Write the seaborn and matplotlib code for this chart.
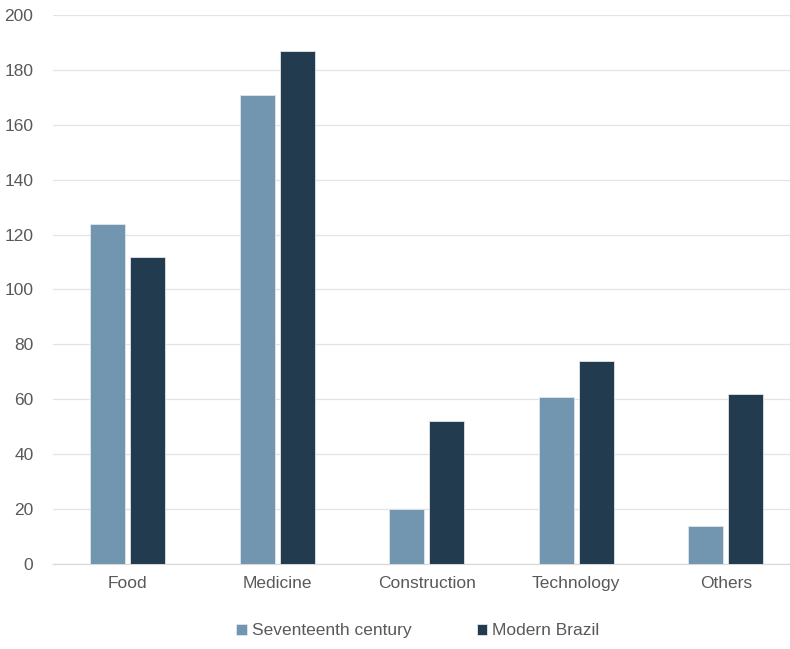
import matplotlib
matplotlib.use("Agg")
import matplotlib.pyplot as plt
import seaborn as sns
import pandas as pd

categories = ["Food", "Medicine", "Construction", "Technology", "Others"]
seventeenth = [124, 171, 20, 61, 14]
modern = [112, 187, 52, 74, 62]
series_names = ["Seventeenth century", "Modern Brazil"]
yticks = [0, 20, 40, 60, 80, 100, 120, 140, 160, 180, 200]

df = pd.DataFrame({
    "category": categories * 2,
    "value": seventeenth + modern,
    "series": [series_names[0]] * len(categories) + [series_names[1]] * len(categories),
})

sns.set_theme(style="white")
plt.rcParams["font.family"] = ["Liberation Sans", "DejaVu Sans"]

fig = plt.figure(figsize=(7.9, 6.49), dpi=100)
ax = fig.add_axes([0.0670, 0.1310, 0.9330, 0.8459])

palette = {series_names[0]: "#7295b0", series_names[1]: "#233b4f"}
sns.barplot(data=df, x="category", y="value", hue="series", palette=palette,
            width=0.535, gap=0.125, ax=ax, edgecolor="#dfe6ec", linewidth=0.6,
            saturation=1, legend=True, zorder=3)

ax.set_ylim(0, 200)
ax.set_xlim(-0.5, 4.43)
ax.set_yticks(yticks)
ax.set_yticklabels([str(t) for t in yticks])
ax.grid(axis="y", color="#e3e3e3", linewidth=0.9, zorder=0)
ax.set_axisbelow(True)
for s in ["top", "right", "left"]:
    ax.spines[s].set_visible(False)
ax.spines["bottom"].set_color("#d9d9d9")
ax.spines["bottom"].set_linewidth(0.9)
ax.set_xlabel("")
ax.set_ylabel("")
ax.tick_params(axis="y", length=0, pad=14, labelsize=12.5, labelcolor="#595959")
ax.tick_params(axis="x", length=0, pad=9, labelsize=12.5, labelcolor="#595959")

handles, labels = ax.get_legend_handles_labels()
ax.legend(handles, labels, loc="center", bbox_to_anchor=(0.529, 0.028), bbox_transform=fig.transFigure,
          ncol=2, frameon=False, fontsize=12.5, labelcolor="#595959",
          handlelength=0.6, handleheight=0.6, handletextpad=0.3, columnspacing=3.75)

fig.savefig("out.png", dpi=100)
